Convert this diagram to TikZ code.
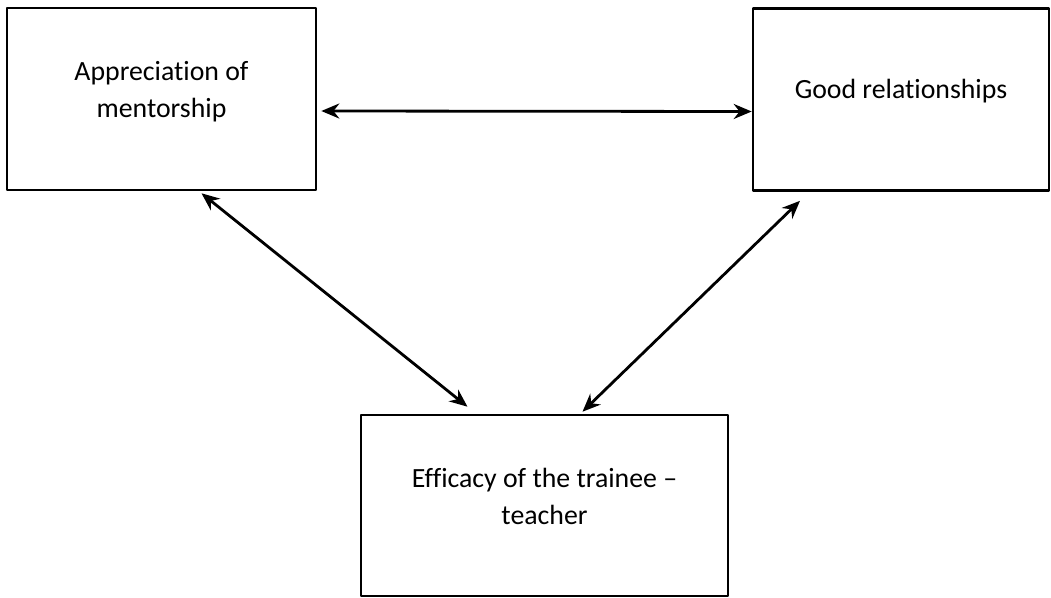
\documentclass[tikz,border=0pt]{standalone}
\usepackage{fontspec}
\setmainfont{Carlito}[Ligatures=NoCommon]
\usetikzlibrary{arrows.meta}
\begin{document}
\begin{tikzpicture}[x=1pt,y=-1pt,line join=round,>={Stealth[length=18pt,width=15pt]},font=\fontsize{27.8}{37}\selectfont]
	\tikzset{box/.style={draw,line width=2.6pt,inner sep=0pt,align=center,text depth=0pt},
		link/.style={<->,line width=2.8pt}}
	\useasboundingbox (0,0) rectangle (1051,597);
	\node[box,minimum width=309pt,minimum height=182pt,text height=36pt] (appr) at (161.5,99) {Appreciation of\\mentorship};
	\node[box,minimum width=296pt,minimum height=182pt,text height=0pt,text depth=3pt] (good) at (901,99.5) {Good relationships};
	\node[box,minimum width=367pt,minimum height=181pt,text height=37pt] (eff) at (544.5,505.5) {Efficacy of the trainee --\\teacher};
	\draw[link] ([xshift=4pt,yshift=-12pt]appr.east) -- ([yshift=-12pt]good.west);
	\draw[link] ([xshift=40pt,yshift=-2pt]appr.south) -- ([xshift=-77pt,yshift=7pt]eff.north);
	\draw[link] ([xshift=-101pt,yshift=-9pt]good.south) -- ([xshift=38pt,yshift=2pt]eff.north);
\end{tikzpicture}
\end{document}
